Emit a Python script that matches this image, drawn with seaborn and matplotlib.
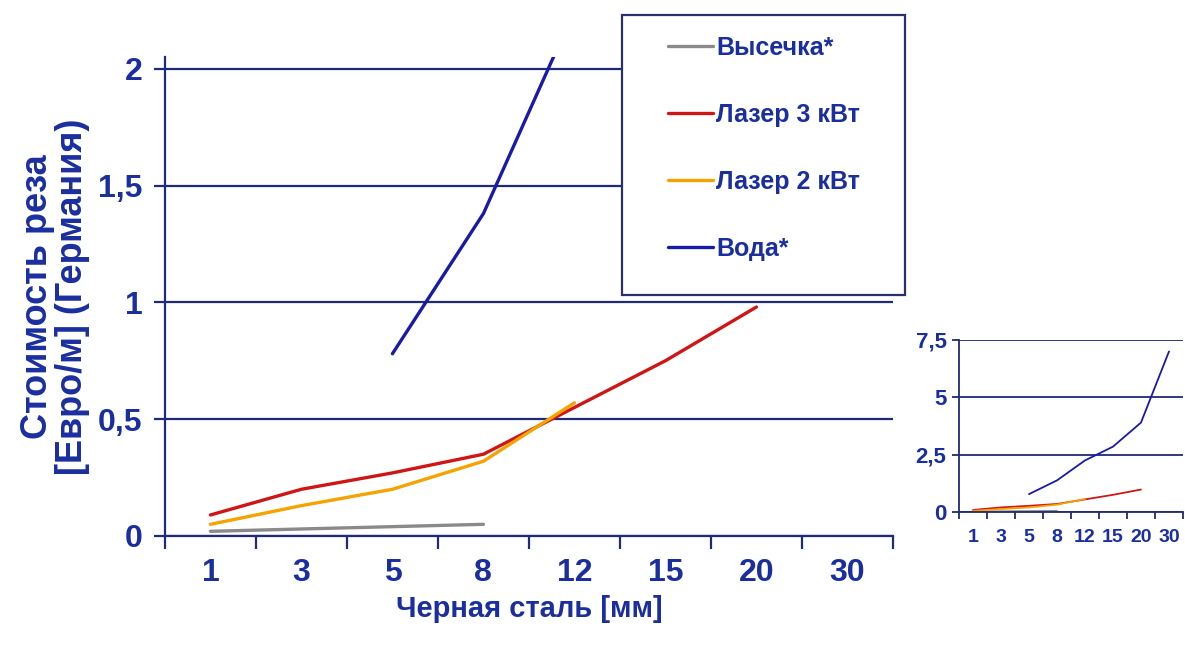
import numpy as np
import pandas as pd
import matplotlib
matplotlib.use('Agg')
import matplotlib.pyplot as plt
from matplotlib.patches import Rectangle
import seaborn as sns

# Данные (стоимость реза, евро/м)
sizes = ['1', '3', '5', '8', '12', '15', '20', '30']
vysechka = [0.02, 0.03, 0.04, 0.05, np.nan, np.nan, np.nan, np.nan]
laser3 = [0.09, 0.20, 0.27, 0.35, 0.55, 0.75, 0.98, np.nan]
laser2 = [0.05, 0.13, 0.20, 0.32, 0.57, np.nan, np.nan, np.nan]
voda = [np.nan, np.nan, 0.78, 1.38, 2.25, 2.85, 3.9, 7.0]

names = ['Высечка*', 'Лазер 3 кВт', 'Лазер 2 кВт', 'Вода*']
colors = ['#8a8a8a', '#d01515', '#f5a300', '#1a1aa8']

rows = []
for name, vals in zip(names, [vysechka, laser3, laser2, voda]):
    for i, v in enumerate(vals):
        rows.append({'pos': i, 'val': v, 'series': name})
df = pd.DataFrame(rows).dropna()

sns.set_theme(style='white')
plt.rcParams['font.family'] = ['Liberation Sans', 'DejaVu Sans']

navy = '#1f2a78'
txt = '#1a2e9e'
pal = dict(zip(names, colors))

fig = plt.figure(figsize=(11.85, 6.66), dpi=100)

# Основной график
ax = fig.add_axes([0.1392, 0.1952, 0.6143, 0.7192])
sns.lineplot(data=df, x='pos', y='val', hue='series', hue_order=names,
             palette=pal, linewidth=2.4, ax=ax, legend=True)
ax.set_xlim(-0.5, 7.5)
ax.set_ylim(0, 2.05)
ax.set_yticks([0, 0.5, 1, 1.5, 2])
ax.set_yticklabels(['0', '0,5', '1', '1,5', '2'])
ax.set_xticks(range(len(sizes)))
ax.set_xticklabels(sizes)
ax.set_xticks(np.arange(-0.5, 7.6, 0.5), minor=True)
ax.yaxis.grid(True, color=navy, linewidth=1.6)
ax.set_axisbelow(True)
for s in ['top', 'right']:
    ax.spines[s].set_visible(False)
for s in ['left', 'bottom']:
    ax.spines[s].set_color(navy)
    ax.spines[s].set_linewidth(1.6)
ax.tick_params(axis='y', which='major', left=True, length=8, width=1.6, color=navy,
               labelsize=23, labelcolor=txt, pad=8)
ax.tick_params(axis='x', which='major', bottom=True, length=0, labelsize=23,
               labelcolor=txt, pad=16)
ax.tick_params(axis='x', which='minor', bottom=True, length=9, width=1.6, color=navy)
for lab in ax.get_xticklabels() + ax.get_yticklabels():
    lab.set_fontweight('bold')
ax.set_xlabel('Черная сталь [мм]', fontsize=21, fontweight='bold', color=txt, labelpad=5)
ax.set_ylabel('Стоимость реза\n[Евро/м] (Германия)', fontsize=26, fontweight='bold',
              color=txt, linespacing=1.0)
ax.yaxis.set_label_coords(-0.103, 0.5)

# Легенда в рамке
handles, labels = ax.get_legend_handles_labels()
ax.get_legend().remove()
box = Rectangle((622 / 1185, 1 - 295 / 666), (905 - 622) / 1185, 280 / 666,
                transform=fig.transFigure, facecolor='white', edgecolor='#2b2f6b',
                linewidth=1.6, zorder=2)
fig.patches.append(box)
leg = fig.legend(handles, labels, loc='upper left',
                 bbox_to_anchor=(668 / 1185, 1 - 36 / 666), fontsize=18,
                 frameon=False, handlelength=1.8, handletextpad=0.12,
                 labelspacing=1.72, borderpad=0, borderaxespad=0)
leg.set_zorder(5)
for t in leg.get_texts():
    t.set_color(txt)
    t.set_fontweight('bold')
for h in leg.get_lines():
    h.set_linewidth(2.4)

# Вставка со всем диапазоном
ax2 = fig.add_axes([0.8093, 0.2312, 0.189, 0.2583])
sns.lineplot(data=df, x='pos', y='val', hue='series', hue_order=names,
             palette=pal, linewidth=1.3, ax=ax2, legend=False)
ax2.set_xlim(-0.5, 7.5)
ax2.set_ylim(0, 7.5)
ax2.set_yticks([0, 2.5, 5, 7.5])
ax2.set_yticklabels(['0', '2,5', '5', '7,5'])
ax2.set_xticks(range(len(sizes)))
ax2.set_xticklabels(sizes)
ax2.set_xticks(np.arange(-0.5, 7.6, 1), minor=True)
ax2.yaxis.grid(True, color=navy, linewidth=1.3)
ax2.set_axisbelow(True)
for s in ['top', 'right']:
    ax2.spines[s].set_visible(False)
for s in ['left', 'bottom']:
    ax2.spines[s].set_color(navy)
    ax2.spines[s].set_linewidth(1.3)
ax2.tick_params(axis='y', left=True, length=5, width=1.3, color=navy,
                labelsize=16, labelcolor=txt, pad=4)
ax2.tick_params(axis='x', which='major', bottom=True, length=0, labelsize=14,
                labelcolor=txt, pad=12)
ax2.tick_params(axis='x', which='minor', bottom=True, length=5, width=1.3, color=navy)
for lab in ax2.get_xticklabels() + ax2.get_yticklabels():
    lab.set_fontweight('bold')
ax2.set_xlabel('')
ax2.set_ylabel('')

fig.savefig('out.png', dpi=100)
